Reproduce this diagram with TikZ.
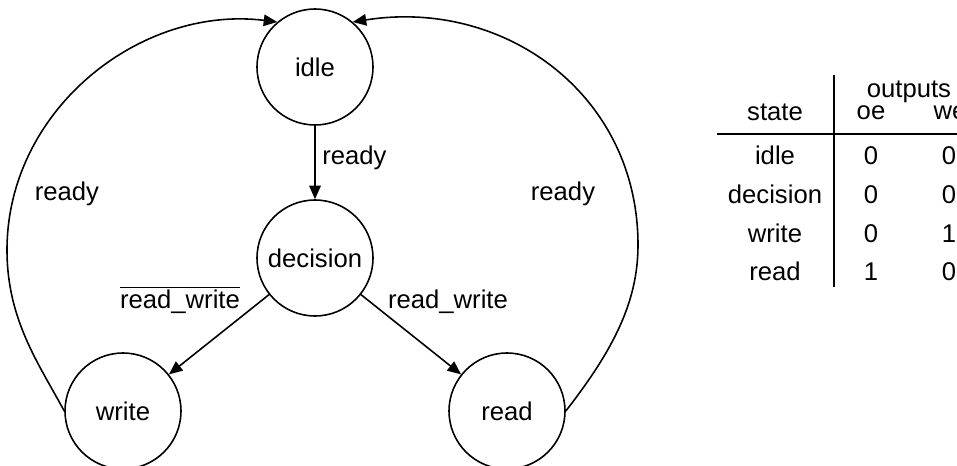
\documentclass[tikz,border=0pt]{standalone}
\usepackage{fontspec}
\setmainfont{Liberation Sans}
\usetikzlibrary{arrows.meta}
\tikzset{
  statecircle/.style={draw, circle, line width=0.9pt, minimum size=2.32cm, inner sep=0pt},
  line/.style={-{Triangle[length=0.27cm,width=0.23cm]}, line width=0.9pt},
  lbl/.style={anchor=base, inner sep=0pt},
  cell/.style={anchor=base, inner sep=0pt},
  rule/.style={line width=0.9pt}
}
\begin{document}
\begin{tikzpicture}[x=0.02cm, y=-0.02cm, font=\fontsize{14.6pt}{17pt}\selectfont]
  \useasboundingbox (0,0) rectangle (957,466);
  % states
  \node[statecircle] (idle) at (315,67) {idle};
  \node[statecircle] (decision) at (315,258) {decision};
  \node[statecircle] (write) at (123,411) {write};
  \node[statecircle] (read) at (507,411) {read};
  % transitions
  \draw[line] (idle) -- (decision);
  \draw[line] (decision) -- (write);
  \draw[line] (decision) -- (read);
  \draw[line] (write.west) .. controls (39,364) and (7,320) .. (7,250)
    .. controls (7,110) and (140,5) .. (idle.130);
  \draw[line] (read.east) .. controls (615,348) and (638,300) .. (638,245)
    .. controls (638,95) and (505,-2) .. (idle.50);
  \node[lbl, anchor=base west] (rdy-down) at (322,165) {ready};
  \node[lbl] (rdy-left) at (67,200) {ready};
  \node[lbl] (rdy-right) at (563,200) {ready};
  \node[lbl] (rw-not) at (180,308) {$\overline{\mbox{read\_write}}$};
  \node[lbl] (rw) at (448,308) {read\_write};
  % output table
  \coordinate (vtop) at (834,75);
  \coordinate (vbot) at (834,287);
  \coordinate (hleft) at (717,134);
  \coordinate (hright) at (960,134);
  \draw[rule] (vtop) -- (vbot);
  \draw[rule] (hleft) -- (hright);
  \node[cell] (h-out) at (909,98) {outputs};
  \node[cell] (h-state) at (775,121) {state};
  \node[cell] (h-oe) at (871,120) {oe};
  \node[cell] (h-we) at (950,120) {we};
  \node[cell] (s-idle) at (775,165) {idle};
  \node[cell] (s-dec) at (775,203) {decision};
  \node[cell] (s-wr) at (775,242) {write};
  \node[cell] (s-rd) at (775,280) {read};
  \node[cell] (oe-idle) at (871,165) {0};
  \node[cell] (oe-dec) at (871,203) {0};
  \node[cell] (oe-wr) at (871,242) {0};
  \node[cell] (oe-rd) at (871,280) {1};
  \node[cell] (we-idle) at (949,165) {0};
  \node[cell] (we-dec) at (949,203) {0};
  \node[cell] (we-wr) at (949,242) {1};
  \node[cell] (we-rd) at (949,280) {0};
\end{tikzpicture}
\end{document}
